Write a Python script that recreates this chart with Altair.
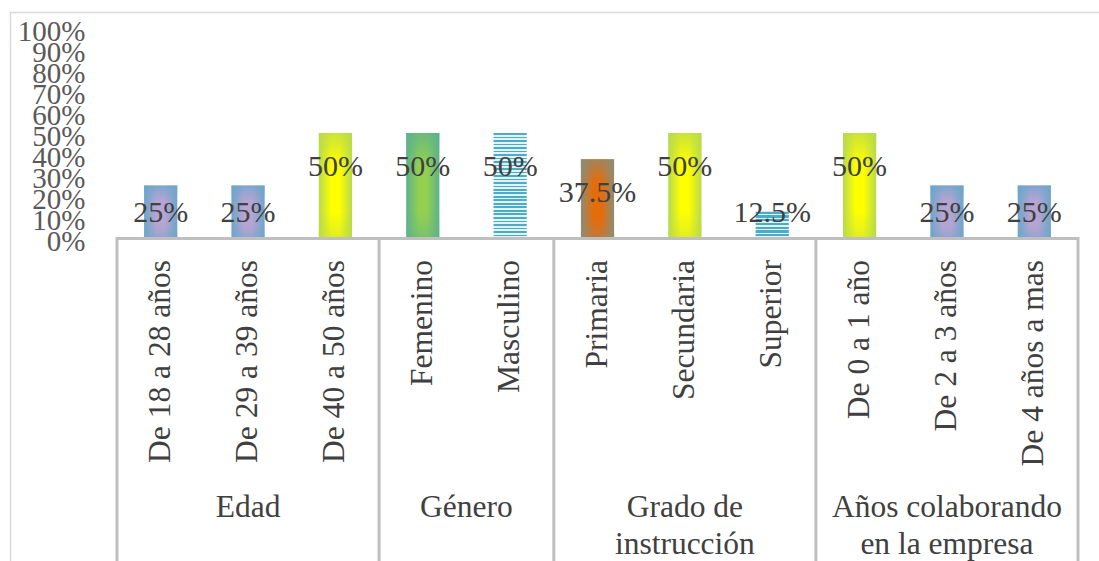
import altair as alt
import pandas as pd

# ---------------- data ----------------
categories = [
    "De 18 a 28 años", "De 29 a 39 años", "De 40 a 50 años",
    "Femenino", "Masculino",
    "Primaria", "Secundaria", "Superior",
    "De 0 a 1 año", "De 2 a 3 años", "De 4 años a mas",
]
groups = (["Edad"] * 3 + ["Género"] * 2 + ["Grado de instrucción"] * 3
          + ["Años colaborando en la empresa"] * 3)
values = [0.25, 0.25, 0.50, 0.50, 0.50, 0.375, 0.50, 0.125, 0.50, 0.25, 0.25]
group_names = ["Edad", "Género", "Grado de instrucción", "Años colaborando en la empresa"]
group_label_text = ["Edad", "Género", "Grado de\ninstrucción", "Años colaborando\nen la empresa"]
y_ticks = [0, 0.1, 0.2, 0.3, 0.4, 0.5, 0.6, 0.7, 0.8, 0.9, 1.0]

# ---------------- styles ----------------
FONT = "Liberation Serif"
fill_styles = {
    "blue": ["De 18 a 28 años", "De 29 a 39 años", "De 2 a 3 años", "De 4 años a mas"],
    "yellow": ["De 40 a 50 años", "Secundaria", "De 0 a 1 año"],
    "green": ["Femenino"],
    "orange": ["Primaria"],
}
palette = {
    "blue": ("#b6a4d3", (108, 166, 202)),
    "yellow": ("#ffff00", (184, 218, 76)),
    "green": ("#93d050", (92, 178, 140)),
    "orange": ("#e66c0a", (140, 140, 116)),
}
striped = {"Masculino": 30, "Superior": 7}

df = pd.DataFrame({"cat": categories, "grp": groups, "value": values})
df["idx"] = range(len(categories))

gstart = [df.loc[df.grp == g, "idx"].min() - 0.5 for g in group_names]
gend = [df.loc[df.grp == g, "idx"].max() + 0.5 for g in group_names]
gdf = pd.DataFrame({
    "label": group_label_text,
    "start": gstart,
    "end": gend,
    "mid": [(a + b) / 2 for a, b in zip(gstart, gend)],
})
bdf = pd.DataFrame({"b": sorted(set(gstart) | set(gend))})

x_scale = alt.Scale(domain=[-0.5, len(categories) - 0.5], nice=False, zero=False)
y_scale = alt.Scale(domain=[0, 1], nice=False)
y_axis = alt.Axis(values=y_ticks, format=".0%", labelFont=FONT, labelFontSize=29,
                  labelColor="#595959", domain=False, ticks=False, grid=False,
                  labelPadding=32, labelOverlap=False, labelOffset=3, title=None)

def stop(o, c):
    return alt.GradientStop(offset=o, color=c)

def hgrad(center, edge):
    e = "rgb(%d,%d,%d)" % edge
    return alt.Gradient(gradient="linear", x1=0, y1=0, x2=1, y2=0,
                        stops=[stop(0, e), stop(0.38, center), stop(0.62, center), stop(1, e)])

def vfade(edge):
    a = "rgba(%d,%d,%d,0.75)" % edge
    b = "rgba(%d,%d,%d,0.45)" % edge
    z = "rgba(%d,%d,%d,0)" % edge
    return alt.Gradient(gradient="linear", x1=0, y1=0, x2=0, y2=1,
                        stops=[stop(0, a), stop(0.3, z), stop(0.75, z), stop(1, b)])

def stripes(n, c1="#4bacc6", c2="#e2f2f7"):
    st = []
    for k in range(n):
        s, m, e = k / n, (k + 0.55) / n, (k + 1) / n
        st += [stop(s, c1), stop(m, c1), stop(m, c2), stop(e, c2)]
    return alt.Gradient(gradient="linear", x1=0, y1=0, x2=0, y2=1, stops=st)

base = alt.Chart(df)

def bar_layer(cats, color):
    return base.transform_filter(
        alt.FieldOneOfPredicate(field="cat", oneOf=cats)
    ).transform_calculate(
        lo="datum.idx - 0.19", hi="datum.idx + 0.19"
    ).mark_bar(color=color).encode(
        x=alt.X("lo:Q", scale=x_scale, axis=None),
        x2="hi:Q",
        y=alt.Y("value:Q", scale=y_scale, axis=y_axis),
        y2=alt.datum(0),
    )

layers = []

# outer chart border
layers.append(
    alt.Chart(alt.Data(values=[{"k": 1}])).mark_rect(
        fill="white", fillOpacity=0, stroke="#d9d9d9", strokeWidth=1.5
    ).encode(x=alt.value(-106.5), x2=alt.value(1000), y=alt.value(-15.5), y2=alt.value(600))
)

for name, cats in fill_styles.items():
    center, edge = palette[name]
    layers.append(bar_layer(cats, hgrad(center, edge)))
    layers.append(bar_layer(cats, vfade(edge)))
for cat, n in striped.items():
    layers.append(bar_layer([cat], stripes(n)))

# category axis line and group separators
layers.append(
    alt.Chart(gdf).mark_rule(color="#bfbfbf", strokeWidth=3).encode(
        x=alt.X("start:Q", scale=x_scale, axis=None), x2="end:Q",
        y=alt.value(210.5),
    )
)
layers.append(
    alt.Chart(bdf).mark_rule(color="#bfbfbf", strokeWidth=3).encode(
        x=alt.X("b:Q", scale=x_scale, axis=None),
        y=alt.value(209), y2=alt.value(533),
    )
)

# value labels
layers.append(
    base.transform_calculate(
        labpos="max(datum.value - 0.16, 0.12)"
    ).mark_text(font=FONT, fontSize=30, color="#404040", baseline="middle").encode(
        x=alt.X("idx:Q", scale=x_scale, axis=None),
        y=alt.Y("labpos:Q", scale=y_scale, axis=y_axis),
        text=alt.Text("value:Q", format=".1~%"),
    )
)

# category labels (rotated)
layers.append(
    base.mark_text(font=FONT, fontSize=31.5, color="#404040", angle=270,
                   align="right", baseline="middle").encode(
        x=alt.X("idx:Q", scale=x_scale, axis=None),
        y=alt.value(232),
        text="cat:N",
    )
)

# group labels
layers.append(
    alt.Chart(gdf).mark_text(font=FONT, fontSize=31.5, color="#404040", align="center",
                             baseline="top", lineBreak="\n", lineHeight=37).encode(
        x=alt.X("mid:Q", scale=x_scale, axis=None),
        y=alt.value(464),
        text="label:N",
    )
)

chart = alt.layer(*layers).properties(
    width=961, height=210,
    autosize=alt.AutoSizeParams(type="none"),
    padding={"left": 117, "top": 28, "right": 21, "bottom": 323},
    background="white",
).configure_view(stroke=None)

chart.save("out.html", embed_options={"renderer": "svg", "actions": False})
